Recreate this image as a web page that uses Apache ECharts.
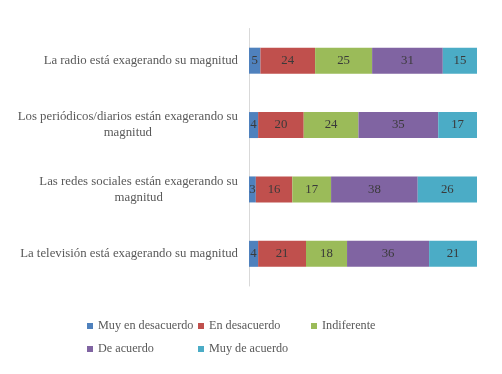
<!DOCTYPE html>
<html>
<head>
<meta charset="utf-8">
<script src="https://cdn.jsdelivr.net/npm/echarts@6/dist/echarts.min.js"></script>
<style>html,body{margin:0;padding:0;background:#fff}#c{width:502px;height:374px}</style>
</head>
<body>
<div id="c"></div>
<script>
const categories = [
  'La radio está exagerando su magnitud',
  'Los periódicos/diarios están exagerando su\nmagnitud',
  'Las redes sociales están exagerando su\nmagnitud',
  'La televisión está exagerando su magnitud'
];
const seriesNames = ['Muy en desacuerdo', 'En desacuerdo', 'Indiferente', 'De acuerdo', 'Muy de acuerdo'];
const muyEnDesacuerdo = [5, 4, 3, 4];
const enDesacuerdo = [24, 20, 16, 21];
const indiferente = [25, 24, 17, 18];
const deAcuerdo = [31, 35, 38, 36];
const muyDeAcuerdo = [15, 17, 26, 21];
const colors = ['#4F81BD', '#C0504D', '#9BBB59', '#8064A2', '#4BACC6'];

const values = [muyEnDesacuerdo, enDesacuerdo, indiferente, deAcuerdo, muyDeAcuerdo];
const FONT = 'Liberation Serif';
const chart = echarts.init(document.getElementById('c'), null, {renderer: 'canvas'});

const legendBase = {
  orient: 'vertical', itemWidth: 6, itemHeight: 6, itemGap: 11, icon: 'rect',
  textStyle: {fontFamily: FONT, fontSize: 12.2, color: '#595959'},
  selectedMode: false
};

chart.setOption({
  animation: false,
  color: colors,
  grid: {left: 249, right: 25, top: 28.5, bottom: 88, containLabel: false},
  xAxis: {type: 'value', min: 0, max: 100, show: false},
  yAxis: {
    type: 'category', data: categories, inverse: true,
    axisLine: {show: true, lineStyle: {color: '#D9D9D9', width: 1}},
    axisTick: {show: false},
    axisLabel: {
      margin: 11,
      fontFamily: FONT, fontSize: 12.8, color: '#595959', lineHeight: 16,
      formatter: v => v.split('\n').map(l => '{c|' + l + '}').join('\n'),
      rich: {c: {align: 'center', fontFamily: FONT, fontSize: 12.8, color: '#595959', lineHeight: 16}}
    }
  },
  legend: [
    Object.assign({}, legendBase, {left: 82, top: 315, data: [seriesNames[0], seriesNames[3]]}),
    Object.assign({}, legendBase, {left: 193, top: 315, data: [seriesNames[1], seriesNames[4]]}),
    Object.assign({}, legendBase, {left: 306, top: 315, data: [seriesNames[2]]})
  ],
  series: seriesNames.map((n, i) => ({
    name: n, type: 'bar', stack: 'total', barWidth: 26,
    data: values[i],
    itemStyle: {color: colors[i]},
    label: {show: true, position: 'inside', fontFamily: FONT, fontSize: 12.8, color: '#3a3a3a'}
  }))
});
</script>
</body>
</html>
